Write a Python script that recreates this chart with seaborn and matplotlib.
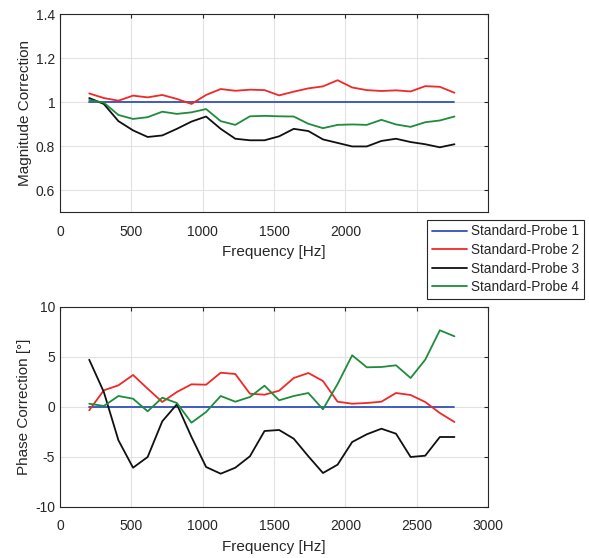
import numpy as np
import pandas as pd
import matplotlib
matplotlib.use("Agg")
import matplotlib.pyplot as plt
import seaborn as sns

# frequency bins (102.4 Hz spacing)
freq = [102.4 * k for k in range(2, 28)]

mag_p1 = [1.0] * 26
mag_p2 = [1.039, 1.018, 1.006, 1.029, 1.021, 1.032, 1.014, 0.991, 1.032, 1.059,
          1.051, 1.056, 1.054, 1.030, 1.047, 1.062, 1.071, 1.099, 1.066, 1.054,
          1.050, 1.053, 1.048, 1.072, 1.069, 1.042]
mag_p3 = [1.018, 0.991, 0.913, 0.871, 0.841, 0.848, 0.878, 0.911, 0.934, 0.878,
          0.833, 0.826, 0.826, 0.844, 0.878, 0.868, 0.830, 0.814, 0.798, 0.798,
          0.823, 0.833, 0.818, 0.808, 0.794, 0.808]
mag_p4 = [1.009, 0.997, 0.941, 0.923, 0.931, 0.956, 0.946, 0.953, 0.968, 0.913,
          0.896, 0.935, 0.937, 0.935, 0.934, 0.901, 0.881, 0.896, 0.898, 0.896,
          0.919, 0.898, 0.887, 0.908, 0.916, 0.934]

ph_p1 = [0.0] * 26
ph_p2 = [-0.33, 1.67, 2.17, 3.2, 1.83, 0.5, 1.5, 2.27, 2.23, 3.43,
         3.3, 1.33, 1.23, 1.63, 2.9, 3.4, 2.6, 0.53, 0.33, 0.4,
         0.53, 1.4, 1.2, 0.5, -0.6, -1.5]
ph_p3 = [4.73, 1.5, -3.33, -6.07, -5.0, -1.43, 0.27, -3.0, -6.0, -6.67,
         -6.07, -4.93, -2.4, -2.3, -3.17, -4.93, -6.6, -5.77, -3.5, -2.73,
         -2.17, -2.67, -5.0, -4.87, -3.0, -3.0]
ph_p4 = [0.33, 0.1, 1.1, 0.83, -0.43, 0.93, 0.4, -1.57, -0.5, 1.1,
         0.53, 1.0, 2.13, 0.67, 1.1, 1.4, -0.23, 2.3, 5.17, 3.97,
         4.0, 4.17, 2.9, 4.73, 7.67, 7.07]

names = ["Standard-Probe 1", "Standard-Probe 2", "Standard-Probe 3", "Standard-Probe 4"]
colors = ["#3050c0", "#f02828", "#101010", "#1e8c3c"]
xticks = [0, 500, 1000, 1500, 2000, 2500, 3000]

sns.set_style("white")
plt.rcParams["font.family"] = ["Liberation Sans", "DejaVu Sans"]
plt.rcParams["axes.unicode_minus"] = False

fig = plt.figure(figsize=(5.89, 5.58), dpi=100)
ax1 = fig.add_axes([60 / 589, 1 - 212 / 558, 428 / 589, 198 / 558])
ax2 = fig.add_axes([60 / 589, 1 - 507 / 558, 428 / 589, 200 / 558])

for name, c, y in zip(names, colors, [mag_p1, mag_p2, mag_p3, mag_p4]):
    sns.lineplot(x=freq, y=y, ax=ax1, color=c, linewidth=1.3, label=name, legend=False)
for name, c, y in zip(names, colors, [ph_p1, ph_p2, ph_p3, ph_p4]):
    sns.lineplot(x=freq, y=y, ax=ax2, color=c, linewidth=1.3, legend=False)

ax1.set_xlim(0, 3000)
ax1.set_ylim(0.5, 1.4)
ax1.set_yticks([0.6, 0.8, 1.0, 1.2, 1.4])
ax1.set_yticklabels(["0.6", "0.8", "1", "1.2", "1.4"])
ax1.set_ylabel("Magnitude Correction", fontsize=11, color="#262626", labelpad=3)
ax1.set_xticks(xticks)
# upper labels beyond 2000 are hidden behind the legend in the original
ax1.set_xticklabels([str(t) if t <= 2000 else "" for t in xticks])

ax2.set_xlim(0, 3000)
ax2.set_ylim(-10, 10)
ax2.set_yticks([-10, -5, 0, 5, 10])
ax2.set_ylabel("Phase Correction [°]", fontsize=11, color="#262626", labelpad=3)
ax2.set_xticks(xticks)

for ax in (ax1, ax2):
    ax.set_xlabel("Frequency [Hz]", fontsize=11, color="#262626", labelpad=5)
    ax.grid(True, color="#e2e2e2", linewidth=0.8)
    ax.tick_params(direction="in", length=3, labelsize=10, colors="#262626",
                   top=True, right=True)
    ax.tick_params(axis="x", pad=9)
    for s in ax.spines.values():
        s.set_color("#262626")
        s.set_linewidth(0.8)

handles, labels = ax1.get_legend_handles_labels()
fig.legend(handles, labels, loc="lower left", bbox_to_anchor=(427 / 589, 1 - 299 / 558),
           frameon=True, fancybox=False, edgecolor="#262626", fontsize=9.8,
           handlelength=2.6, labelspacing=0.34, borderpad=0.35, handletextpad=0.3,
           borderaxespad=0)
leg = fig.legends[0]
leg.get_frame().set_linewidth(0.8)
leg.set_zorder(10)
leg.get_frame().set_facecolor("white")
leg.get_frame().set_alpha(1)

fig.savefig("out.png", dpi=100)
